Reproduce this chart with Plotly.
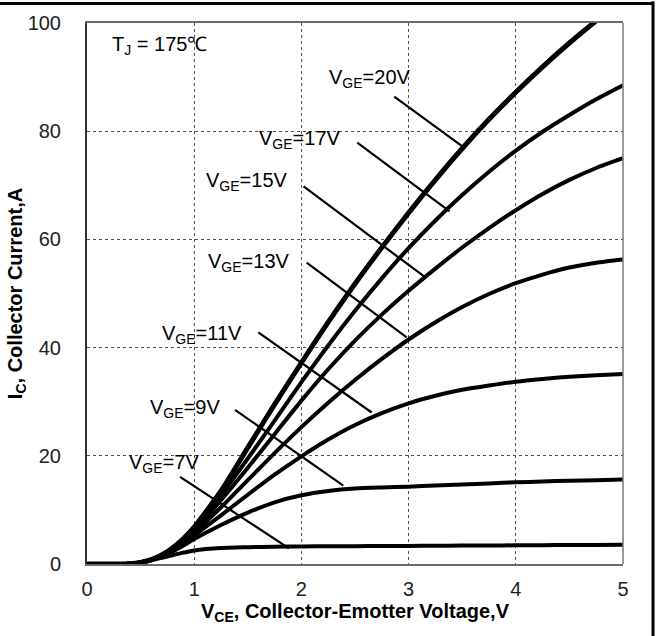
import plotly.graph_objects as go

# ---- data ----
vce = [0, 0.25, 0.4, 0.5, 0.6, 0.75, 0.9, 1.0, 1.25, 1.5, 1.75, 2.0, 2.25, 2.5,
       2.75, 3.0, 3.25, 3.5, 3.75, 4.0, 4.25, 4.5, 4.75, 5.0]

ic_20v = [0, 0, 0.05, 0.3, 0.8, 2.3, 4.7, 6.8, 13.5, 21.5, 29.5, 37.2, 44.7, 51.8,
          58.5, 64.9, 71.0, 76.8, 82.2, 87.2, 91.9, 96.3, 100.4, 104.3]
ic_17v = [0, 0, 0.05, 0.3, 0.8, 2.2, 4.5, 6.5, 12.7, 19.5, 26.5, 33.6, 40.4, 46.8,
          52.8, 58.4, 63.5, 68.2, 72.5, 76.4, 79.9, 83.0, 85.9, 88.5]
ic_15v = [0, 0, 0.05, 0.3, 0.8, 2.1, 4.3, 6.2, 11.8, 17.8, 24.0, 30.2, 36.0, 41.3,
          46.1, 50.5, 54.6, 58.5, 62.1, 65.4, 68.4, 71.0, 73.2, 75.0]
ic_13v = [0, 0, 0.05, 0.3, 0.8, 2.0, 4.1, 5.8, 10.5, 15.5, 20.5, 25.3, 29.8, 34.0,
          37.9, 41.5, 44.7, 47.5, 49.9, 51.9, 53.5, 54.8, 55.7, 56.3]
ic_11v = [0, 0, 0.05, 0.3, 0.75, 1.9, 3.8, 5.3, 9.0, 12.8, 16.5, 19.9, 23.0, 25.7,
          27.9, 29.7, 31.1, 32.2, 33.0, 33.7, 34.2, 34.6, 34.9, 35.1]
ic_9v = [0, 0, 0.05, 0.3, 0.7, 1.8, 3.4, 4.6, 7.2, 9.5, 11.4, 12.7, 13.5, 13.95,
         14.15, 14.3, 14.5, 14.7, 14.9, 15.1, 15.25, 15.4, 15.5, 15.6]
ic_7v = [0, 0, 0.05, 0.25, 0.7, 1.4, 2.1, 2.5, 2.95, 3.1, 3.2, 3.25, 3.28, 3.3,
         3.32, 3.35, 3.37, 3.4, 3.42, 3.45, 3.48, 3.5, 3.52, 3.55]

series = [ic_20v, ic_17v, ic_15v, ic_13v, ic_11v, ic_9v, ic_7v]
series_names = ["V<sub>GE</sub>=20V", "V<sub>GE</sub>=17V", "V<sub>GE</sub>=15V",
                "V<sub>GE</sub>=13V", "V<sub>GE</sub>=11V", "V<sub>GE</sub>=9V",
                "V<sub>GE</sub>=7V"]
line_widths = [5, 4, 4, 4, 4, 4, 4]

# label text anchor (left, middle) and leader line (start -> tip on curve), data units
label_pos = [(2.239, 89.7), (1.583, 78.4), (1.091, 70.7), (1.110, 55.7),
             (0.681, 42.5), (0.572, 28.7), (0.370, 18.5)]
leader_start = [(2.866, 86.4), (2.521, 77.9), (2.020, 69.8), (2.049, 55.7),
                (1.598, 42.8), (1.381, 28.5), (0.868, 16.1)]
leader_tip = [(3.508, 77.1), (3.383, 65.2), (3.148, 53.1), (2.982, 41.9),
              (2.656, 28.0), (2.391, 14.5), (1.884, 2.9)]

x_ticks = [0, 1, 2, 3, 4, 5]
y_ticks = [0, 20, 40, 60, 80, 100]

FONT = "Arial, Liberation Sans, sans-serif"

fig = go.Figure()
for ys, name, w in zip(series, series_names, line_widths):
    fig.add_trace(go.Scatter(x=vce, y=ys, mode="lines", name=name,
                             line=dict(color="black", width=w, shape="spline", smoothing=0.6),
                             showlegend=False, hoverinfo="skip"))

annotations = []
shapes = [
    # right edge of plot frame (gray)
    dict(type="line", xref="paper", yref="paper", x0=1, x1=1, y0=0, y1=1,
         line=dict(color="#7a7a7a", width=1.5)),
    # outer picture frame: top and right
    dict(type="line", xref="paper", yref="paper", x0=-0.2, x1=1.056, y0=1.036, y1=1.036,
         line=dict(color="black", width=3)),
    dict(type="line", xref="paper", yref="paper", x0=1.056, x1=1.056, y0=-0.2, y1=1.04,
         line=dict(color="black", width=3)),
]
for name, (lx, ly), (sx, sy), (tx, ty) in zip(series_names, label_pos, leader_start, leader_tip):
    annotations.append(dict(x=lx, y=ly, xref="x", yref="y", text=name, showarrow=False,
                            xanchor="left", yanchor="middle",
                            font=dict(family=FONT, size=20, color="black")))
    shapes.append(dict(type="line", xref="x", yref="y", x0=sx, y0=sy, x1=tx, y1=ty,
                       line=dict(color="black", width=2.2)))
annotations.append(dict(x=0.215, y=95.9, xref="x", yref="y", text="T<sub>J</sub> = 175℃",
                        showarrow=False, xanchor="left", yanchor="middle",
                        font=dict(family=FONT, size=20, color="black")))

fig.update_layout(
    width=658, height=636,
    margin=dict(l=87, r=35, t=21, b=72),
    paper_bgcolor="white", plot_bgcolor="white",
    annotations=annotations,
    shapes=shapes,
)
fig.update_xaxes(range=[0, 5], tickvals=x_ticks, ticktext=[str(v) for v in x_ticks],
                 showgrid=True, gridcolor="#505050", griddash="dot", gridwidth=1,
                 showline=True, linecolor="#6a6a6a", linewidth=1.5, mirror=True,
                 zeroline=False, ticks="", ticklabelstandoff=6,
                 tickfont=dict(family=FONT, size=20, color="#222"),
                 title=dict(text="<b>V<sub>CE</sub>, Collector-Emotter Voltage,V</b>",
                            font=dict(family=FONT, size=20, color="black"), standoff=3))
fig.update_yaxes(range=[0, 100], tickvals=y_ticks, ticktext=[str(v) for v in y_ticks],
                 showgrid=True, gridcolor="#505050", griddash="dot", gridwidth=1,
                 showline=True, linecolor="#333333", linewidth=2, mirror=False,
                 zeroline=False, ticks="", ticklabelstandoff=20,
                 tickfont=dict(family=FONT, size=20, color="#222"),
                 title=dict(text="<b>I<sub>C</sub>, Collector Current,A</b>",
                            font=dict(family=FONT, size=20, color="black"), standoff=0))

fig.write_html("out.html")
